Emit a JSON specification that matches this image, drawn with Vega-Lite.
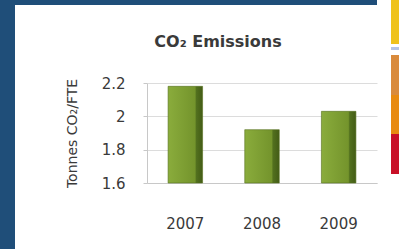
{
  "$schema": "https://vega.github.io/schema/vega-lite/v6.json",
  "padding": 0,
  "background": "#ffffff",
  "bounds": "flush",
  "spacing": 391,
  "config": {"font": "DejaVu Sans", "view": {"stroke": null}},
  "hconcat": [
    {
      "bounds": "flush",
      "spacing": 0,
      "vconcat": [
        {
          "width": 377, "height": 5,
          "data": {"values": []},
          "mark": "rect",
          "encoding": {},
          "view": {"fill": "#1f4e79", "stroke": null}
        },
        {
          "bounds": "flush",
          "spacing": 132,
          "hconcat": [
            {
              "width": 15, "height": 244,
              "data": {"values": []},
              "mark": "rect",
              "encoding": {},
              "view": {"fill": "#1f4e79", "stroke": null}
            },
            {
              "bounds": "flush",
              "spacing": 77,
              "vconcat": [
                {
                  "width": 230, "height": 1,
                  "data": {"values": []},
                  "mark": "rect",
                  "encoding": {},
                  "view": {"stroke": null}
                },
                {
                  "width": 230, "height": 100,
                  "title": {
                    "text": "CO₂ Emissions",
                    "fontSize": 16,
                    "fontWeight": "bold",
                    "color": "#3a3a3a",
                    "dx": -44,
                    "offset": 26
                  },
                  "data": {"values": [
                    {"year": "2007", "value": 2.18},
                    {"year": "2008", "value": 1.92},
                    {"year": "2009", "value": 2.03}
                  ]},
                  "mark": {
                    "type": "bar",
                    "width": {"band": 0.45},
                    "stroke": "#55701f",
                    "strokeWidth": 0.6,
                    "fill": {
                      "gradient": "linear", "x1": 0, "y1": 0, "x2": 1, "y2": 0,
                      "stops": [
                        {"offset": 0, "color": "#8aac3c"},
                        {"offset": 0.78, "color": "#74942c"},
                        {"offset": 0.82, "color": "#52701e"},
                        {"offset": 1, "color": "#435c16"}
                      ]
                    }
                  },
                  "encoding": {
                    "x": {
                      "field": "year", "type": "ordinal",
                      "scale": {"paddingInner": 0, "paddingOuter": 0},
                      "axis": {
                        "title": null, "labelAngle": 0, "labelFontSize": 15,
                        "labelColor": "#3a3a3a", "ticks": false, "labelPadding": 33,
                        "domainColor": "#c8c8c8"
                      }
                    },
                    "y": {
                      "field": "value", "type": "quantitative",
                      "scale": {"domain": [1.6, 2.2], "zero": false, "nice": false},
                      "axis": {
                        "values": [1.6, 1.8, 2.0, 2.2], "format": ".1~f",
                        "title": "Tonnes CO₂/FTE", "titleFontSize": 14, "titleFontWeight": "normal",
                        "titleColor": "#3a3a3a", "titlePadding": 22,
                        "labelFontSize": 15, "labelColor": "#3a3a3a",
                        "tickSize": 4, "tickColor": "#c8c8c8", "labelPadding": 18,
                        "domainColor": "#c8c8c8", "gridColor": "#dcdcdc"
                      }
                    },
                    "y2": {"datum": 1.6}
                  }
                }
              ]
            }
          ]
        }
      ]
    },
    {
      "width": 8, "height": 249,
      "data": {"values": [
        {"seg": "yellow", "start": 0, "end": 44},
        {"seg": "blue", "start": 47, "end": 50},
        {"seg": "brown", "start": 55, "end": 95},
        {"seg": "orange", "start": 95, "end": 134},
        {"seg": "red", "start": 134, "end": 174}
      ]},
      "mark": {"type": "rect"},
      "encoding": {
        "x": {"datum": 0, "type": "quantitative", "scale": {"domain": [0, 1]}, "axis": null},
        "x2": {"datum": 1},
        "y": {"field": "start", "type": "quantitative", "scale": {"domain": [0, 249], "reverse": true}, "axis": null},
        "y2": {"field": "end"},
        "color": {
          "field": "seg", "type": "nominal", "legend": null,
          "scale": {"domain": ["yellow", "blue", "brown", "orange", "red"],
                    "range": ["#efc21c", "#b4c4e6", "#d98a3c", "#e88a10", "#c81028"]}
        }
      },
      "view": {"stroke": null}
    }
  ]
}
